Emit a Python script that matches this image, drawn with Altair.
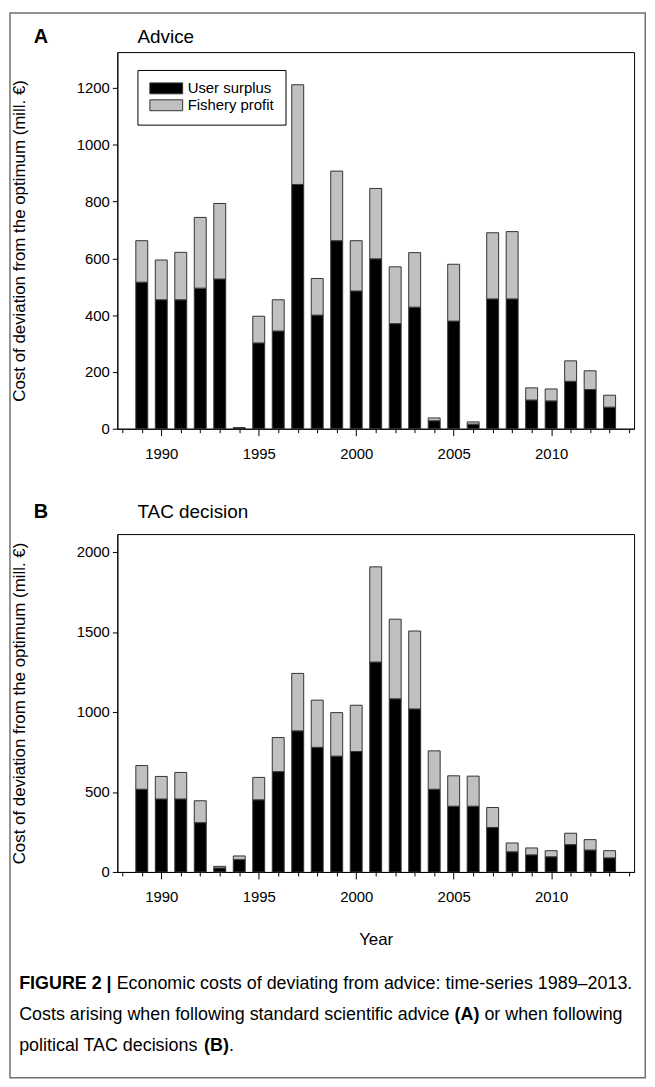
import altair as alt
import pandas as pd

years = list(range(1989, 2014))
advice_user = [516, 454, 454, 495, 527, 3, 302, 344, 860, 400, 662, 485, 598, 370, 428,
               28, 379, 16, 457, 457, 101, 98, 167, 138, 76]
advice_profit = [146, 140, 167, 249, 266, 0, 94, 110, 351, 129, 245, 177, 248, 200, 192,
                 10, 200, 8, 233, 237, 43, 42, 72, 66, 42]
tac_user = [517, 456, 456, 308, 25, 77, 451, 627, 882, 779, 724, 753, 1312, 1082, 1019,
            517, 411, 411, 278, 126, 107, 95, 171, 137, 88]
tac_profit = [148, 141, 166, 137, 10, 23, 140, 213, 359, 295, 272, 289, 595, 498, 487,
              240, 190, 188, 125, 55, 43, 38, 71, 65, 45]
components = ["User surplus", "Fishery profit"]
colors = ["#000000", "#c0c0c0"]
advice_ticks = [0, 200, 400, 600, 800, 1000, 1200]
tac_ticks = [0, 500, 1000, 1500, 2000]
x_ticks = list(range(1988, 2015))

FONT = "Liberation Sans"
W = 520
HA, HB = 379, 340
YMAX_A, YMAX_B = 1326, 2112
SPACING = 106

# Arial / Liberation Sans advance widths (per 1000 em)
REG = {' ': 278, '(': 333, ')': 333, ',': 278, '-': 333, '.': 278, ':': 278, '|': 260,
       '–': 556, 'A': 667, 'B': 667, 'C': 722, 'E': 667, 'T': 611,
       'a': 556, 'b': 556, 'c': 500, 'd': 556, 'e': 556, 'f': 278, 'g': 556, 'h': 556,
       'i': 222, 'l': 222, 'm': 833, 'n': 556, 'o': 556, 'p': 556, 'r': 333, 's': 500,
       't': 278, 'u': 556, 'v': 500, 'w': 722, 'y': 500}
BOLD = {' ': 278, '(': 333, ')': 333, '|': 280, 'A': 722, 'B': 722, 'E': 667, 'F': 611,
        'G': 778, 'I': 278, 'R': 722, 'U': 722, '2': 556}


def tw(s, bold, size):
    tab = BOLD if bold else REG
    return sum(tab.get(c, 556) for c in s) * size / 1000.0


def make_df(user, profit):
    rows = []
    for y, u, p in zip(years, user, profit):
        rows.append({"year": y, "component": components[0], "value": u, "ord": 0})
        rows.append({"year": y, "component": components[1], "value": p, "ord": 1})
    return pd.DataFrame(rows)


def x_axis(title):
    kw = dict(values=x_ticks, labelExpr="datum.value % 5 == 0 ? datum.label : ''",
              tickSize=alt.condition("datum.value % 5 == 0", alt.value(7), alt.value(4)),
              grid=False, labelFontSize=15, labelPadding=11, labelOverlap=False, format="d",
              labelFlush=False)
    if title:
        kw.update(title=title, titleFontSize=17, titleBaseline="middle", titleY=68)
    else:
        kw.update(title=None)
    return alt.Axis(**kw)


def y_axis(vals):
    return alt.Axis(values=vals, grid=False, tickSize=5, labelPadding=3, labelFontSize=15,
                    format="d",
                    title="Cost of deviation from the optimum (mill. €)", titleFontSize=17,
                    titleX=-98, titleBaseline="middle", titleAngle=270)


def bars(user, profit, ymax, yvals, legend, xtitle):
    df = make_df(user, profit)
    return alt.Chart(df).mark_bar(size=12, stroke="#333333", strokeWidth=1).encode(
        x=alt.X("year:Q", scale=alt.Scale(domain=[1988, 2014], nice=False, zero=False),
                axis=x_axis(xtitle)),
        y=alt.Y("value:Q", stack="zero", scale=alt.Scale(domain=[0, ymax], nice=False),
                axis=y_axis(yvals)),
        color=alt.Color("component:N", scale=alt.Scale(domain=components, range=colors),
                        legend=legend),
        order=alt.Order("ord:Q"),
    )


def label(txt, x, y, size, bold=False, align="left", baseline="middle"):
    kw = dict(align=align, baseline=baseline, font=FONT, fontSize=size, color="black")
    if bold:
        kw["fontWeight"] = "bold"
    return alt.Chart(pd.DataFrame({"t": [txt]})).mark_text(**kw).encode(
        text="t:N", x=alt.value(x), y=alt.value(y))


# page coordinates -> relative to plot origins
OX, OYA = 116.75, 48
OYB = OYA + HA + SPACING

legendA = alt.Legend(title=None, orient="none", legendX=137 - OX, legendY=66 - OYA,
                     symbolType="M-3,-1H3V1H-3Z", symbolSize=121, symbolOffset=10.5,
                     labelOffset=14, labelFontSize=15, labelFont=FONT, labelColor="black",
                     strokeColor="black", fillColor="white", padding=11, rowPadding=1,
                     symbolStrokeColor="#333333", symbolStrokeWidth=1, symbolOpacity=1)

barsA = bars(advice_user, advice_profit, YMAX_A, advice_ticks, legendA, None)
barsB = bars(tac_user, tac_profit, YMAX_B, tac_ticks, None, "Year")

border = alt.Chart(pd.DataFrame({"a": [0]})).mark_rect(
    fillOpacity=0, stroke="#707070", strokeWidth=1.5).encode(
    x=alt.value(8.75 - OX), x2=alt.value(648 - OX),
    y=alt.value(8.75 - OYA), y2=alt.value(1080 - OYA))

panelA = alt.layer(
    barsA,
    label("A", 40 - OX, 33 - OYA, 20, bold=True, align="center"),
    label("Advice", 137 - OX, 33 - OYA, 19),
    border,
).properties(width=W, height=HA)

# caption
CS = 18.0
cx = 18 - OX
l1, l2, l3 = 986 - OYB, 1017 - OYB, 1048 - OYB
sp = tw(" ", False, CS)
seg1a = "FIGURE 2 |"
seg1b = "Economic costs of deviating from advice: time-series 1989–2013."
seg2a = "Costs arising when following standard scientific advice"
seg2b = "(A)"
seg2c = "or when following"
seg3a = "political TAC decisions"
seg3b = "(B)"
seg3c = "."

x1b = cx + tw(seg1a, True, CS) + sp
x2b = cx + tw(seg2a, False, CS) + sp
x2c = x2b + tw(seg2b, True, CS) + sp
x3b = cx + tw(seg3a, False, CS) + sp
x3c = x3b + tw(seg3b, True, CS)

caption = [
    label(seg1a, cx, l1, CS, bold=True),
    label(seg1b, x1b, l1, CS),
    label(seg2a, cx, l2, CS),
    label(seg2b, x2b, l2, CS, bold=True),
    label(seg2c, x2c, l2, CS),
    label(seg3a, cx, l3, CS),
    label(seg3b, x3b, l3, CS, bold=True),
    label(seg3c, x3c, l3, CS),
]

panelB = alt.layer(
    barsB,
    label("B", 40 - OX, 511 - OYB, 20, bold=True, align="center"),
    label("TAC decision", 137 - OX, 511 - OYB, 19),
    *caption,
).properties(width=W, height=HB)

chart = alt.vconcat(panelA, panelB, spacing=SPACING, bounds="flush").resolve_scale(
    color="independent").resolve_legend(color="independent").configure(
    padding=0, background="white", font=FONT
).configure_view(stroke="black", strokeWidth=1).configure_axis(
    labelFont=FONT, titleFont=FONT, labelColor="black", titleColor="black",
    domainColor="black", tickColor="black", titleFontWeight="normal", domainWidth=1,
    tickWidth=1)

chart.save("out.html", embed_options={"renderer": "svg", "actions": False})
